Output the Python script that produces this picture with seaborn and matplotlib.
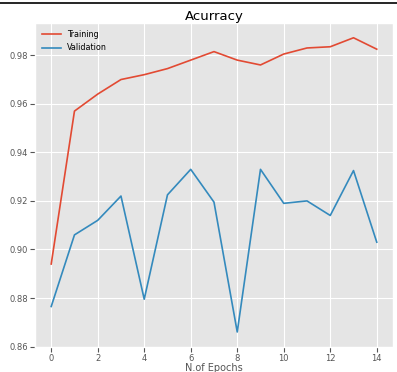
import numpy as np
import pandas as pd
import matplotlib
matplotlib.use("Agg")
import matplotlib.pyplot as plt
from matplotlib.lines import Line2D
import seaborn as sns

# data
epochs = list(range(15))
train_acc = [0.894, 0.957, 0.964, 0.970, 0.972, 0.9745, 0.978, 0.9815,
             0.978, 0.976, 0.9805, 0.983, 0.9835, 0.9872, 0.9825]
val_acc = [0.8765, 0.906, 0.912, 0.922, 0.8795, 0.9225, 0.933, 0.9195,
           0.866, 0.933, 0.919, 0.920, 0.914, 0.9325, 0.903]

df = pd.DataFrame({
    "epoch": epochs * 2,
    "acc": train_acc + val_acc,
    "set": ["Training"] * len(epochs) + ["Validation"] * len(epochs),
})

plt.style.use("ggplot")
fig, ax = plt.subplots(figsize=(3.97, 3.72), dpi=100)
sns.lineplot(data=df, x="epoch", y="acc", hue="set",
             palette=["#E24A33", "#348ABD"], linewidth=1.2, ax=ax)
ax.set_title("Acurracy", fontsize=9.5, pad=2)
ax.set_xlabel("N.of Epochs", fontsize=7, labelpad=0)
ax.set_ylabel("")
ax.set_xticks(range(0, 15, 2))
ax.set_yticks(np.arange(0.86, 0.981, 0.02))
ax.tick_params(labelsize=6, pad=1.5)
ax.legend(title=None, loc="upper left", fontsize=5.8, frameon=False,
          handlelength=2.3)

fig.subplots_adjust(left=0.088, right=0.99, top=0.938, bottom=0.068)
fig.add_artist(Line2D([0, 1], [0.992, 0.992], color="black", lw=1.2,
                      transform=fig.transFigure))
fig.savefig("out.png", dpi=100)
